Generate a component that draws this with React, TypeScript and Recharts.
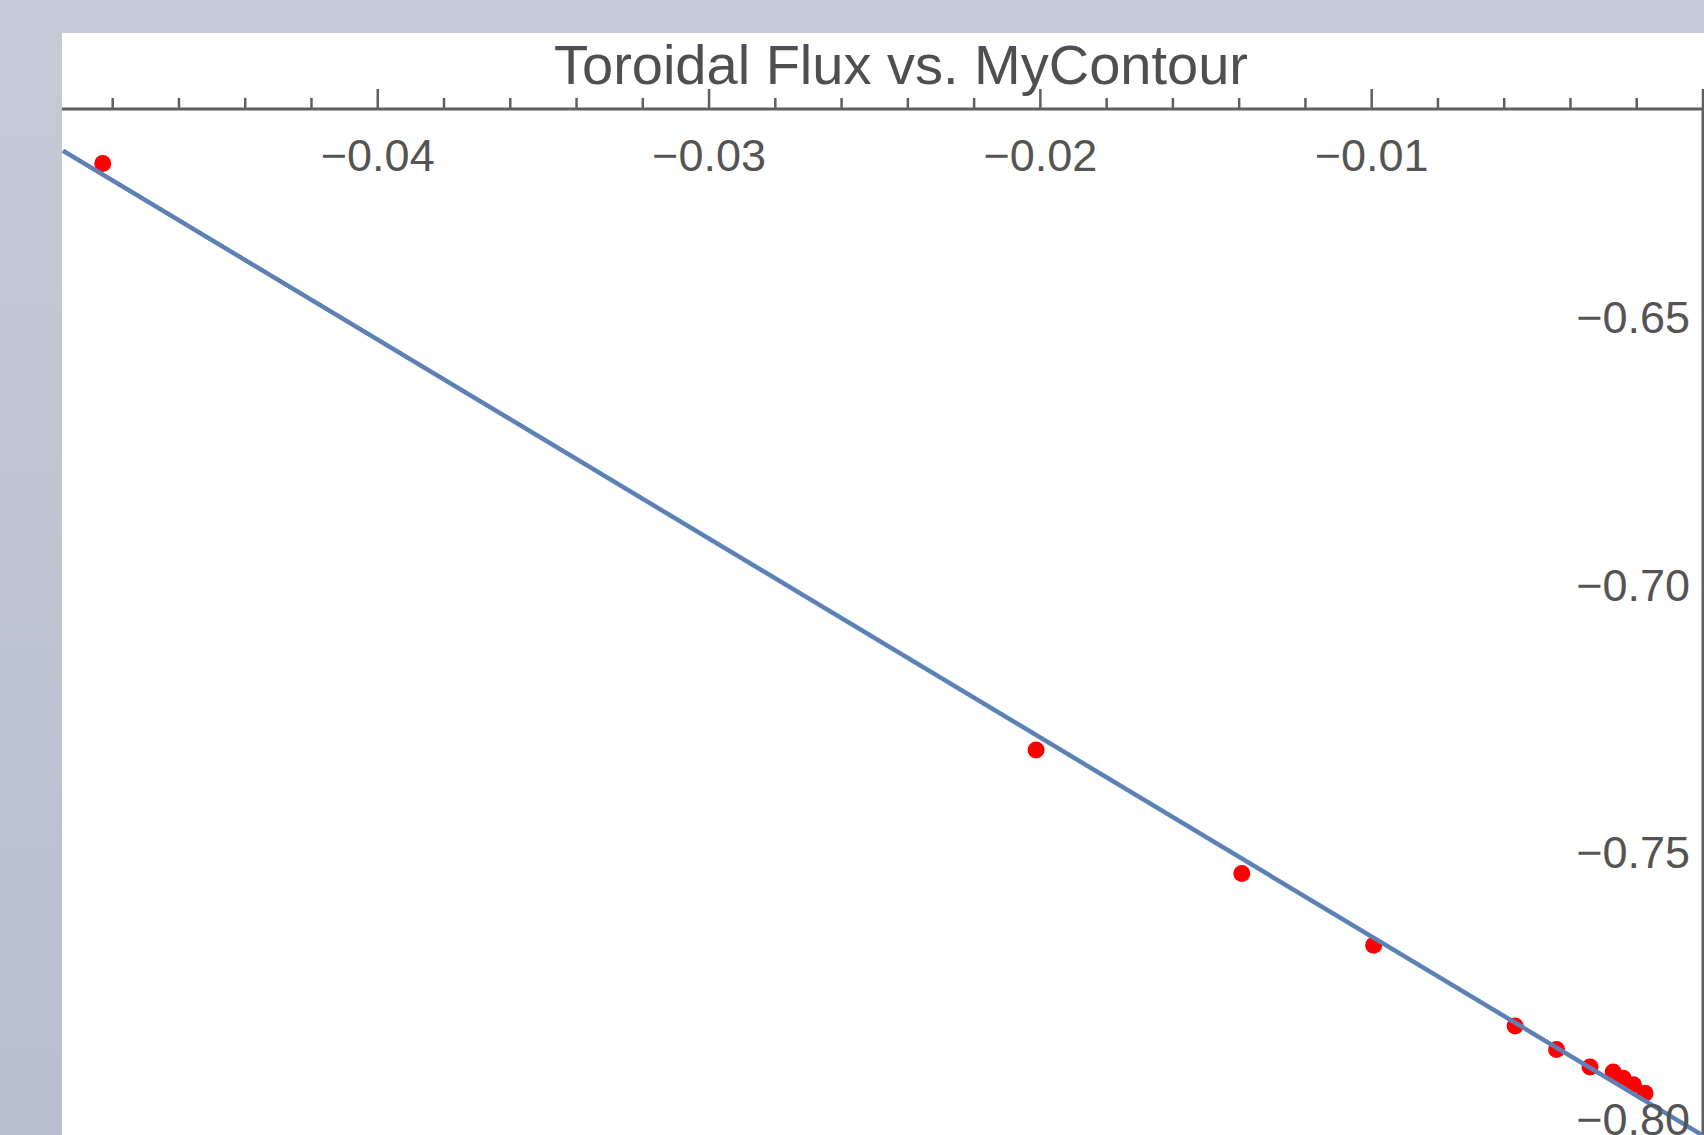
import React from "react";
import { ComposedChart, Scatter, XAxis, YAxis } from "recharts";

// measured points (toroidal flux on x, MyContour on y)
const fluxX = [
  -0.0483, -0.02013, -0.01392, -0.00994, -0.00567, -0.00442, -0.00341,
  -0.00271, -0.00241, -0.0021, -0.00175,
];
const contourY = [
  -0.621, -0.7307, -0.7538, -0.7672, -0.7823, -0.7867, -0.79, -0.7909,
  -0.7921, -0.7933, -0.7949,
];

// fitted straight line, read at both ends of the frame
const fitX = [-0.0495, 0];
const fitY = [-0.6186, -0.8028];

const xTicks = [
  -0.048, -0.046, -0.044, -0.042, -0.04, -0.038, -0.036, -0.034, -0.032, -0.03,
  -0.028, -0.026, -0.024, -0.022, -0.02, -0.018, -0.016, -0.014, -0.012, -0.01,
  -0.008, -0.006, -0.004, -0.002, 0,
];
const yTicks = [-0.8, -0.75, -0.7, -0.65];

const points = fluxX.map((x, i) => ({ x, y: contourY[i] }));
const fitLine = fitX.map((x, i) => ({ x, y: fitY[i] }));

const FONT = "'Liberation Sans', Arial, Helvetica, sans-serif";
const AXIS = "#5f5f5f";
const TEXT = "#545454";

const fmt = (v: number) => v.toFixed(2).replace("-", "\u2212");
const isMajor = (v: number) => Math.abs(v * 100 - Math.round(v * 100)) < 1e-6;

const XTick = (props: any) => {
  const { x, y, payload } = props;
  const v = payload.value as number;
  const major = isMajor(v);
  return (
    <g>
      <line x1={x} x2={x} y1={y} y2={y - (major ? 20 : 11)} stroke={AXIS} strokeWidth={2.5} />
      {major && v !== 0 && (
        <text x={x} y={y + 62} textAnchor="middle" fill={TEXT} fontSize={45} fontFamily={FONT}>
          {fmt(v)}
        </text>
      )}
    </g>
  );
};

const YTick = (props: any) => {
  const { x, y, payload } = props;
  return (
    <text
      x={x - 13}
      y={y}
      dy="0.33em"
      textAnchor="end"
      fill={TEXT}
      fontSize={45}
      fontFamily={FONT}
    >
      {fmt(payload.value)}
    </text>
  );
};

const RedDot = (props: any) => <circle cx={props.cx} cy={props.cy} r={8.5} fill="#ff0000" />;

export default function App() {
  return (
    <div
      style={{
        position: "absolute",
        left: 0,
        top: 0,
        width: 1704,
        height: 1135,
        overflow: "hidden",
        background: "linear-gradient(#c4cad6, #b8c0cd)",
      }}
    >
      <div
        style={{
          position: "absolute",
          left: 62,
          top: 33,
          width: 1642,
          height: 1102,
          background: "#ffffff",
        }}
      />
      <div
        style={{
          position: "absolute",
          left: 401,
          top: 37,
          width: 1000,
          textAlign: "center",
          fontFamily: FONT,
          fontSize: 56,
          lineHeight: 1,
          color: "#4f4f4f",
          whiteSpace: "nowrap",
        }}
      >
        Toroidal Flux vs. MyContour
      </div>
      <div style={{ position: "absolute", left: 0, top: 0 }}>
        <ComposedChart
          width={1704}
          height={1135}
          margin={{ top: 89, right: 0, bottom: 0, left: 62 }}
        >
          <XAxis
            type="number"
            dataKey="x"
            orientation="top"
            domain={[-0.04953, 0]}
            allowDataOverflow
            ticks={xTicks}
            interval={0}
            height={20}
            tickSize={0}
            tickMargin={0}
            tickLine={false}
            axisLine={{ stroke: AXIS, strokeWidth: 3 }}
            tick={<XTick />}
          />
          <YAxis
            type="number"
            dataKey="y"
            orientation="right"
            domain={[-0.8027, -0.6108]}
            allowDataOverflow
            ticks={yTicks}
            interval={0}
            width={1}
            tickSize={0}
            tickMargin={0}
            tickLine={false}
            axisLine={{ stroke: AXIS, strokeWidth: 3 }}
            tick={<YTick />}
          />
          <Scatter data={points} shape={<RedDot />} isAnimationActive={false} />
          <Scatter
            data={fitLine}
            line={{ stroke: "#5e81b5", strokeWidth: 4.5 }}
            shape={() => <g />}
            isAnimationActive={false}
          />
        </ComposedChart>
      </div>
    </div>
  );
}
